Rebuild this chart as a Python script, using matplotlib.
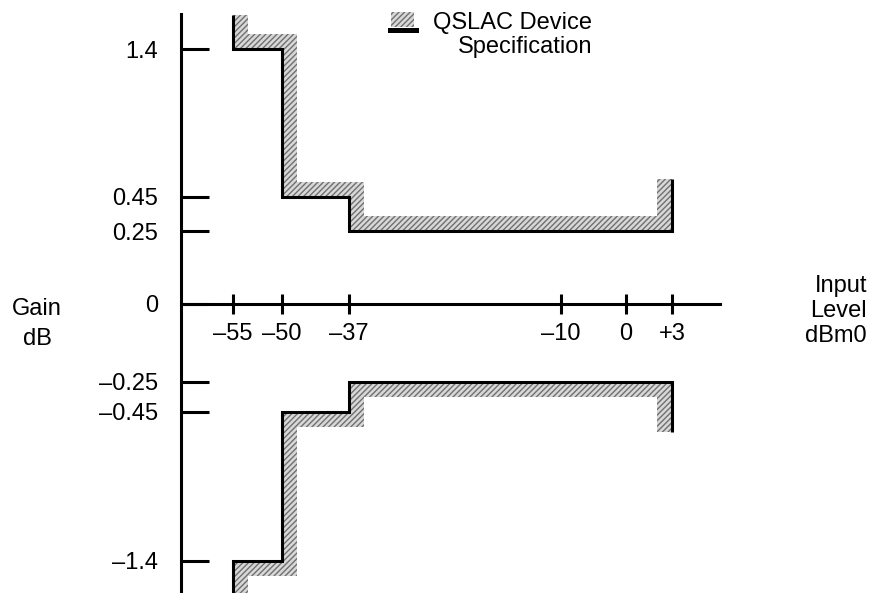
import numpy as np
import matplotlib
matplotlib.use('Agg')
import matplotlib.pyplot as plt
from matplotlib.patches import Polygon, Rectangle

plt.rcParams['font.family'] = ['Liberation Sans', 'DejaVu Sans']
plt.rcParams['hatch.color'] = '#707070'
plt.rcParams['hatch.linewidth'] = 1.0

# tick values and labels (schematic, not to scale)
x_ticks = [-55, -50, -37, -10, 0, 3]
x_labels = ['\u201355', '\u201350', '\u201337', '\u201310', '0', '+3']
y_ticks = [-1.4, -0.45, -0.25, 0, 0.25, 0.45, 1.4]
y_labels = ['\u20131.4', '\u20130.45', '\u20130.25', '0', '0.25', '0.45', '1.4']

# spec mask, gain limit vs input level
upper_x = [-55, -55, -50, -50, -37, -37, 3, 3]
upper_y = [1.62, 1.4, 1.4, 0.45, 0.45, 0.25, 0.25, 0.56]
lower_x = [-55, -55, -50, -50, -37, -37, 3, 3]
lower_y = [-1.62, -1.4, -1.4, -0.45, -0.45, -0.25, -0.25, -0.58]

# where each tick sits on the (non linear) drawing, in pixels
x_tick_pix = [233, 281.5, 348.5, 561, 626, 672]
y_tick_pix = [560.5, 411.5, 381.5, 304, 231, 196.5, 49]

W, H = 872, 593


def make_map(xp, fp):   # piecewise linear with linear extrapolation
    xp = np.asarray(xp, float); fp = np.asarray(fp, float)
    lo = (fp[1]-fp[0])/(xp[1]-xp[0])
    hi = (fp[-1]-fp[-2])/(xp[-1]-xp[-2])
    def f(x):
        x = np.asarray(x, float)
        y = np.interp(x, xp, fp)
        y = np.where(x < xp[0], fp[0] + (x-xp[0])*lo, y)
        y = np.where(x > xp[-1], fp[-1] + (x-xp[-1])*hi, y)
        return y
    return f

fx = make_map(x_ticks, x_tick_pix); fx_inv = make_map(x_tick_pix, x_ticks)
neg_pix = [-p for p in y_tick_pix]
fy = make_map(y_ticks, neg_pix); fy_inv = make_map(neg_pix, y_ticks)


def offset_path(px, py, d, side):
    # offset an orthogonal polyline by d pixels, side=+1 left, -1 right
    pts = np.column_stack([px, py])
    segs = np.diff(pts, axis=0)
    segs = segs/np.linalg.norm(segs, axis=1)[:, None]
    norms = side*np.column_stack([-segs[:, 1], segs[:, 0]])
    out = []
    for i in range(len(pts)):
        n = np.zeros(2)
        if i > 0: n += norms[i-1]
        if i < len(segs): n += norms[i]
        out.append(pts[i] + d*n)
    return np.array(out)


fig = plt.figure(figsize=(W/100., H/100.), dpi=100)
ax = fig.add_axes([0, 0, 1, 1])
ax.set_xscale('function', functions=(fx, fx_inv))
ax.set_yscale('function', functions=(fy, fy_inv))
ax.set_xlim(float(fx_inv(0)), float(fx_inv(W)))
ax.set_ylim(float(fy_inv(-H)), float(fy_inv(0)))
ax.patch.set_visible(False)

lw = 2.2
for s in ['top', 'right']:
    ax.spines[s].set_visible(False)
ax.spines['left'].set_position(('data', float(fx_inv(180.5))))
ax.spines['bottom'].set_position(('data', 0))
ax.spines['left'].set_bounds(float(fy_inv(-H)), float(fy_inv(-14)))
ax.spines['bottom'].set_bounds(float(fx_inv(180.5)), float(fx_inv(720)))
ax.spines['left'].set_linewidth(lw); ax.spines['bottom'].set_linewidth(lw)

fs = 17
ax.set_xticks(x_ticks, x_labels)
ax.set_yticks(y_ticks, y_labels)
ax.tick_params(axis='x', direction='inout', length=14.4, width=lw, pad=6.5, labelsize=fs)
ax.tick_params(axis='y', direction='in', length=20, width=lw, pad=16, labelsize=fs)
ax.minorticks_off()

# hatched tolerance band along each limit line
fig.canvas.draw()
for xs, ys, side in [(upper_x, upper_y, 1), (lower_x, lower_y, -1)]:
    disp = ax.transData.transform(np.column_stack([xs, ys]))
    off = offset_path(disp[:, 0], disp[:, 1], 15, side)
    poly = np.vstack([disp, off[::-1]])
    poly = ax.transData.inverted().transform(poly)
    ax.add_patch(Polygon(poly, closed=True, facecolor='#d8d8d8', edgecolor='#707070',
                         linewidth=0, hatch='//////', clip_on=False, zorder=2))
    ax.plot(xs, ys, color='black', lw=lw, solid_joinstyle='miter',
            solid_capstyle='butt', clip_on=False, zorder=3)

# legend
fig.patches.append(Rectangle((391./W, 1-27./H), 23./W, 15./H, transform=fig.transFigure,
                             facecolor='#d8d8d8', edgecolor='#707070', linewidth=0, hatch='//////'))
fig.patches.append(Rectangle((388./W, 1-33./H), 31./W, 5./H, transform=fig.transFigure,
                             facecolor='black', linewidth=0))
fig.text(592./W, 1-12./H, 'QSLAC Device\nSpecification', ha='right', va='top',
         fontsize=fs, linespacing=1.1)

fig.text(37./W, 1-324./H, 'Gain\ndB', ha='center', va='center', fontsize=fs,
         multialignment='center', linespacing=1.45)
fig.text(867./W, 1-311./H, 'Input\nLevel\ndBm0', ha='right', va='center', fontsize=fs,
         multialignment='right', linespacing=1.2)

fig.savefig('out.png', dpi=100)
